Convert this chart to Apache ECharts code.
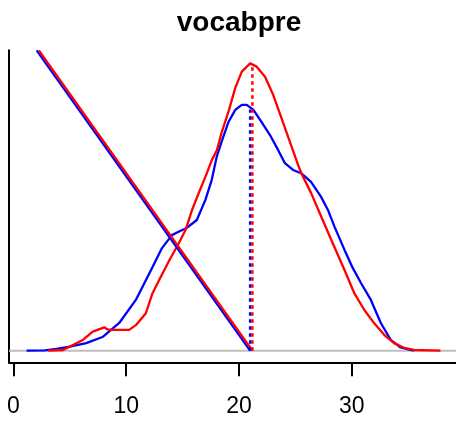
<!DOCTYPE html>
<html>
<head>
<meta charset="utf-8">
<script src="https://cdn.jsdelivr.net/npm/echarts@6/dist/echarts.min.js"></script>
<style>html,body{margin:0;padding:0;background:#fff;}#c{width:456px;height:422px;}</style>
</head>
<body>
<div id="c"></div>
<script>
// Data (x = score, y = estimated density)
const titleText = 'vocabpre';
const xTicks = [0, 10, 20, 30];
const blueX = [1.16, 2.78, 3.81, 4.98, 6.45, 7.89, 9.38, 10.85, 12.29, 13.17, 14.05, 14.82, 15.37, 16.26, 17.02, 17.58, 18.02, 18.46, 19.08, 19.67, 20.25, 20.69, 21.28, 21.98, 22.75, 23.48, 24.07, 24.80, 25.51, 26.39, 27.27, 27.89, 28.48, 29.36, 30.09, 30.82, 31.70, 32.58, 33.46, 34.34, 35.22, 35.52];
const blueY = [0, 0.0001, 0.0005, 0.0011, 0.0021, 0.0038, 0.0077, 0.0141, 0.0230, 0.0285, 0.0321, 0.0333, 0.0341, 0.0363, 0.0419, 0.0474, 0.0538, 0.0581, 0.0636, 0.0669, 0.0683, 0.0683, 0.0669, 0.0636, 0.0599, 0.0557, 0.0521, 0.0502, 0.0493, 0.0469, 0.0428, 0.0391, 0.0344, 0.0280, 0.0230, 0.0188, 0.0141, 0.0077, 0.0030, 0.0009, 0.0002, 0];
const redX = [3.07, 4.39, 5.27, 6.15, 7.03, 7.62, 8.06, 8.35, 8.79, 10.26, 10.85, 11.74, 12.32, 12.91, 13.79, 14.67, 15.26, 15.84, 16.43, 17.02, 17.60, 18.04, 18.48, 19.07, 19.67, 20.25, 20.99, 21.57, 22.31, 23.04, 23.77, 24.51, 25.24, 25.53, 26.41, 27.30, 28.18, 29.36, 30.24, 31.12, 32.00, 32.88, 33.76, 34.64, 35.52, 37.87];
const redY = [0, 0.0002, 0.0016, 0.0030, 0.0053, 0.0060, 0.0065, 0.0059, 0.0058, 0.0058, 0.0071, 0.0104, 0.0159, 0.0196, 0.0249, 0.0299, 0.0335, 0.0391, 0.0438, 0.0483, 0.0530, 0.0557, 0.0608, 0.0664, 0.0730, 0.0775, 0.0798, 0.0789, 0.0761, 0.0710, 0.0646, 0.0581, 0.0516, 0.0493, 0.0437, 0.0372, 0.0308, 0.0224, 0.0159, 0.0113, 0.0076, 0.0044, 0.0021, 0.0008, 0.0002, 0];
const blueMean = 20.99, blueMeanHeight = 0.067;
const redMean = 21.19, redMeanHeight = 0.0797;
const blueDiagStart = 2.05, redDiagStart = 2.25;

const xMin = -0.4, xMax = 39.25, yMin = -0.00322, yMax = 0.08344;

const zip = (xs, ys) => xs.map((x, i) => [x, ys[i]]);
const BLUE = '#0000FF', RED = '#FF0000';

const chart = echarts.init(document.getElementById('c'), null, {renderer: 'canvas'});
chart.setOption({
  animation: false,
  backgroundColor: '#ffffff',
  title: {
    text: titleText, left: 234, top: 4, textAlign: 'center',
    textStyle: {fontFamily: 'Liberation Sans, Arial, sans-serif', fontWeight: 'bold', fontSize: 28, color: '#000'}
  },
  grid: {left: 9, top: 50.3, width: 450, height: 312, containLabel: false},
  xAxis: {
    type: 'value', min: xMin, max: xMax,
    axisLine: {show: true, onZero: false, lineStyle: {color: '#000', width: 2}},
    axisTick: {show: true, customValues: xTicks, length: 14, lineStyle: {color: '#000', width: 2}},
    axisLabel: {show: true, customValues: xTicks, margin: 33, color: '#000', fontSize: 23, fontFamily: 'Liberation Sans, Arial, sans-serif'},
    splitLine: {show: false}
  },
  yAxis: {
    type: 'value', min: yMin, max: yMax,
    axisLine: {show: true, onZero: false, lineStyle: {color: '#000', width: 2}},
    axisTick: {show: false}, axisLabel: {show: false}, splitLine: {show: false}
  },
  series: [
    {type: 'line', data: [[xMin, 0], [xMax, 0]], symbol: 'none', lineStyle: {color: '#BEBEBE', width: 2}, silent: true},
    {type: 'line', data: zip(blueX, blueY), symbol: 'none', smooth: false, lineStyle: {color: BLUE, width: 2.3, join: 'round'}},
    {type: 'line', data: zip(redX, redY), symbol: 'none', smooth: false, lineStyle: {color: RED, width: 2.3, join: 'round'}},
    {type: 'line', data: [[blueDiagStart, yMax], [blueMean, 0]], symbol: 'none', lineStyle: {color: BLUE, width: 2.3}},
    {type: 'line', data: [[redDiagStart, yMax], [redMean, 0]], symbol: 'none', lineStyle: {color: RED, width: 2.3}},
    {type: 'line', data: [[blueMean, 0], [blueMean, blueMeanHeight]], symbol: 'none', lineStyle: {color: BLUE, width: 2.5, type: [3.5, 3.5]}},
    {type: 'line', data: [[redMean, 0], [redMean, redMeanHeight]], symbol: 'none', lineStyle: {color: RED, width: 2.5, type: [3.5, 3.5]}}
  ]
});
</script>
</body>
</html>
